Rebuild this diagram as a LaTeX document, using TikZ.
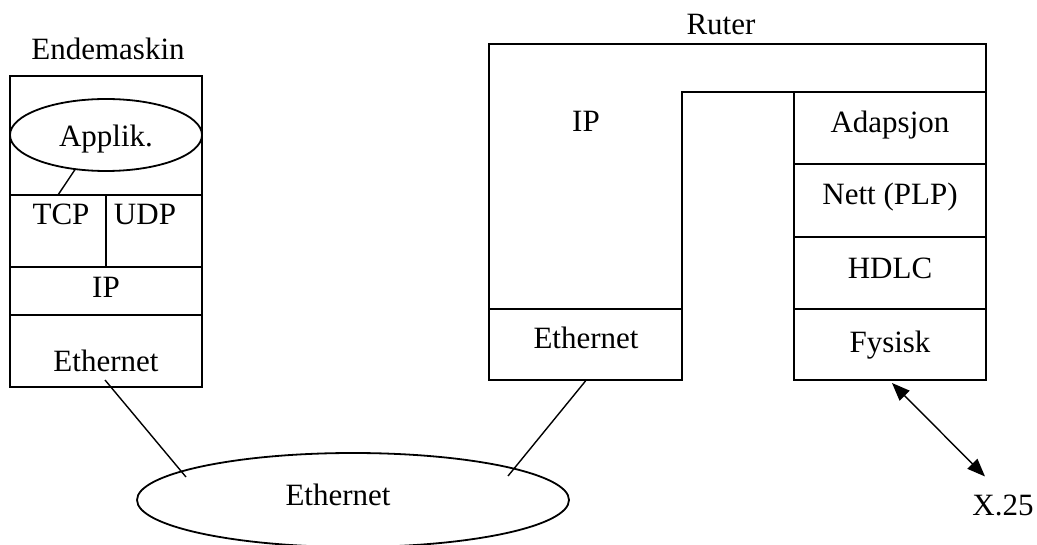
\documentclass[tikz,border=0pt]{standalone}
\usepackage{fontspec}
\setmainfont{Liberation Serif}
\usetikzlibrary{shapes.geometric,arrows.meta,calc}
\begin{document}
\begin{tikzpicture}[x=1pt,y=-1pt,
  every node/.style={inner sep=0pt, outer sep=0pt},
  txt/.style={anchor=base, font=\fontsize{31}{37}\selectfont},
  cell/.style={draw, rectangle, line width=1.8pt},
  oval/.style={draw, ellipse, line width=1.8pt},
  wire/.style={line width=1.4pt},
  tip/.style={Triangle[length=18pt,width=14pt]}]
\useasboundingbox (0,0) rectangle (1037,545);

% ---- host protocol stack ----
\node[txt] (hostname) at (108,60) {Endemaskin};
\node[cell, minimum width=192pt, minimum height=119pt] (apparea) at (106,135.5) {};
\node[oval, minimum width=192pt, minimum height=72pt] (app) at (106,135) {};
\node[txt] (apptxt) at (106,147) {Applik.};
\node[cell, minimum width=96pt, minimum height=72pt] (tcp) at (58,231) {};
\node[cell, minimum width=96pt, minimum height=72pt] (udp) at (154,231) {};
\node[txt] (tcptxt) at (61,225) {TCP};
\node[txt] (udptxt) at (145,225) {UDP};
\node[cell, minimum width=192pt, minimum height=48pt] (hip) at (106,291) {};
\node[txt] (hiptxt) at (106,298) {IP};
\node[cell, minimum width=192pt, minimum height=72pt] (heth) at (106,351) {};
\node[txt] (hethtxt) at (106,372) {Ethernet};
\draw[wire] (app.228) -- ($(tcp.north west)+(48,0)$);

% ---- router protocol stack ----
\node[txt] (routername) at (721,35) {Ruter};
\draw[line width=1.8pt] (489,309) -- (489,44) -- (986,44) -- (986,92)
  -- (682,92) -- (682,309) -- cycle;
\node[txt] (rip) at (586,132) {IP};
\node[cell, minimum width=193pt, minimum height=71pt] (reth) at (585.5,344.5) {};
\node[txt] (rethtxt) at (586,349) {Ethernet};
\node[cell, minimum width=192pt, minimum height=72pt] (adap) at (890,128) {};
\node[txt] (adaptxt) at (890,133) {Adapsjon};
\node[cell, minimum width=192pt, minimum height=73pt] (plp) at (890,200.5) {};
\node[txt] (plptxt) at (890,205) {Nett (PLP)};
\node[cell, minimum width=192pt, minimum height=72pt] (hdlc) at (890,273) {};
\node[txt] (hdlctxt) at (890,279) {HDLC};
\node[cell, minimum width=192pt, minimum height=71pt] (fys) at (890,344.5) {};
\node[txt] (fystxt) at (890,353) {Fysisk};

% ---- shared Ethernet segment and X.25 link ----
\node[oval, minimum width=432pt, minimum height=94pt] (lan) at (353,500) {};
\node[txt] (lantxt) at (338,505) {Ethernet};
\node[txt] (x25) at (1003,515) {X.25};

\coordinate (hethend) at ($(heth.south)+(-1,-7)$);
\coordinate (lanleft) at ($(lan.center)+(-167,-23)$);
\coordinate (rethend) at ($(reth.south)+(0,1)$);
\coordinate (lanright) at ($(lan.center)+(155,-24)$);
\draw[wire] (hethend) -- (lanleft);
\draw[wire] (rethend) -- (lanright);

\coordinate (fysend) at ($(fys.south)+(2,3)$);
\coordinate (x25end) at ($(x25.north)+(-18,-18)$);
\draw[wire, {Triangle[length=18pt,width=14pt]}-{Triangle[length=18pt,width=14pt]}] (fysend) -- (x25end);
\end{tikzpicture}
\end{document}
